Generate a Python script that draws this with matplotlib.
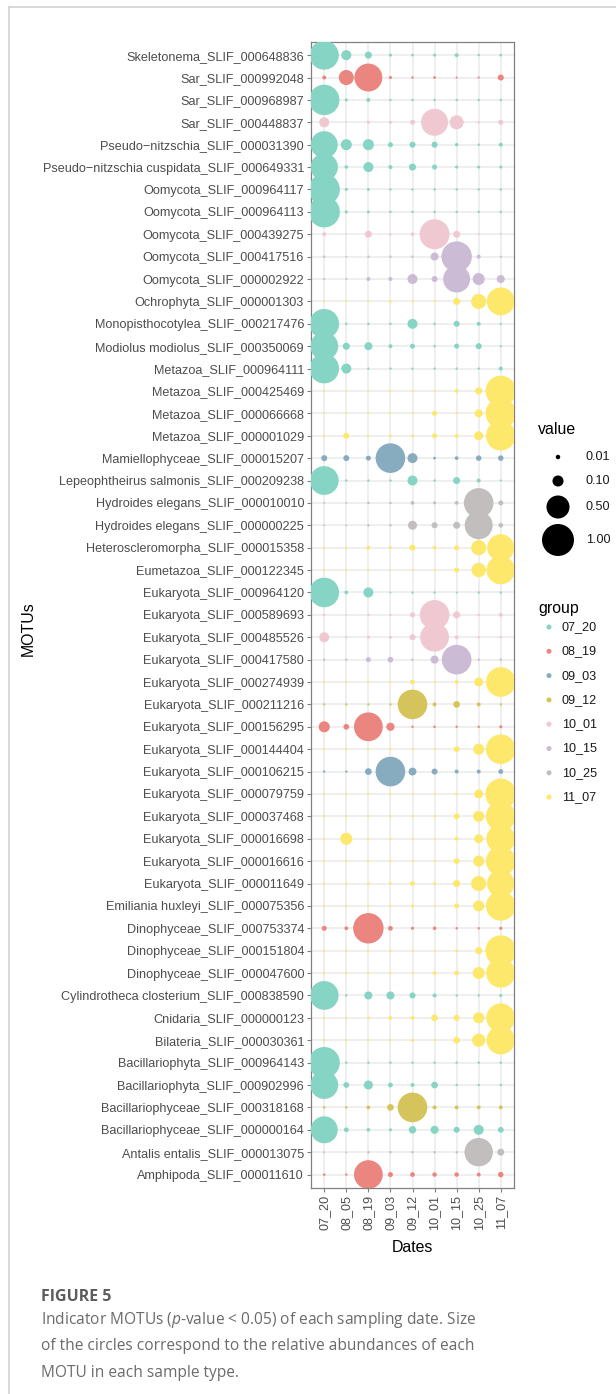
import matplotlib
matplotlib.use("Agg")
import matplotlib.pyplot as plt
import numpy as np
from matplotlib.lines import Line2D

# ---------------------------------------------------------------- data
dates = ["07_20", "08_05", "08_19", "09_03", "09_12", "10_01", "10_15", "10_25", "11_07"]

motus = [
    "Skeletonema_SLIF_000648836", "Sar_SLIF_000992048", "Sar_SLIF_000968987",
    "Sar_SLIF_000448837", "Pseudo\u2212nitzschia_SLIF_000031390",
    "Pseudo\u2212nitzschia cuspidata_SLIF_000649331", "Oomycota_SLIF_000964117",
    "Oomycota_SLIF_000964113", "Oomycota_SLIF_000439275", "Oomycota_SLIF_000417516",
    "Oomycota_SLIF_000002922", "Ochrophyta_SLIF_000001303",
    "Monopisthocotylea_SLIF_000217476", "Modiolus modiolus_SLIF_000350069",
    "Metazoa_SLIF_000964111", "Metazoa_SLIF_000425469", "Metazoa_SLIF_000066668",
    "Metazoa_SLIF_000001029", "Mamiellophyceae_SLIF_000015207",
    "Lepeophtheirus salmonis_SLIF_000209238", "Hydroides elegans_SLIF_000010010",
    "Hydroides elegans_SLIF_000000225", "Heteroscleromorpha_SLIF_000015358",
    "Eumetazoa_SLIF_000122345", "Eukaryota_SLIF_000964120", "Eukaryota_SLIF_000589693",
    "Eukaryota_SLIF_000485526", "Eukaryota_SLIF_000417580", "Eukaryota_SLIF_000274939",
    "Eukaryota_SLIF_000211216", "Eukaryota_SLIF_000156295", "Eukaryota_SLIF_000144404",
    "Eukaryota_SLIF_000106215", "Eukaryota_SLIF_000079759", "Eukaryota_SLIF_000037468",
    "Eukaryota_SLIF_000016698", "Eukaryota_SLIF_000016616", "Eukaryota_SLIF_000011649",
    "Emiliania huxleyi_SLIF_000075356", "Dinophyceae_SLIF_000753374",
    "Dinophyceae_SLIF_000151804", "Dinophyceae_SLIF_000047600",
    "Cylindrotheca closterium_SLIF_000838590", "Cnidaria_SLIF_000000123",
    "Bilateria_SLIF_000030361", "Bacillariophyta_SLIF_000964143",
    "Bacillariophyta_SLIF_000902996", "Bacillariophyceae_SLIF_000318168",
    "Bacillariophyceae_SLIF_000000164", "Antalis entalis_SLIF_000013075",
    "Amphipoda_SLIF_000011610",
]

groups = [
    "07_20", "08_19", "07_20", "10_01", "07_20", "07_20", "07_20", "07_20", "10_01",
    "10_15", "10_15", "11_07", "07_20", "07_20", "07_20", "11_07", "11_07", "11_07",
    "09_03", "07_20", "10_25", "10_25", "11_07", "11_07", "07_20", "10_01", "10_01",
    "10_15", "11_07", "09_12", "08_19", "11_07", "09_03", "11_07", "11_07", "11_07",
    "11_07", "11_07", "11_07", "08_19", "11_07", "11_07", "07_20", "11_07", "11_07",
    "07_20", "07_20", "09_12", "07_20", "10_25", "08_19",
]

# relative abundance of each MOTU on each sampling date
v_07_20 = [0.82, 0.007, 0.90, 0.08, 0.70, 0.72, 0.95, 0.95, 0.007, 0.001, 0.0005, 0.0005,
           0.85, 0.75, 0.85, 0.0005, 0.0002, 0.001, 0.023, 0.80, 0.0002, 0.0002, 0.001,
           0.001, 0.85, 0.001, 0.079, 0.001, 0.001, 0.001, 0.10, 0.001, 0.001, 0.001,
           0.001, 0.001, 0.001, 0.001, 0.001, 0.014, 0.001, 0.001, 0.80, 0.001, 0.001,
           0.95, 0.75, 0.0013, 0.70, 0.0002, 0.0013]
v_08_05 = [0.08, 0.20, 0.003, 0.0002, 0.10, 0.005, 0.003, 0.003, 0.0002, 0.0002, 0.0005,
           0.0005, 0.001, 0.034, 0.079, 0.0002, 0.0002, 0.023, 0.023, 0.001, 0.0002,
           0.0002, 0.001, 0.001, 0.006, 0.0002, 0.001, 0.001, 0.001, 0.001, 0.02, 0.001,
           0.001, 0.001, 0.001, 0.12, 0.001, 0.001, 0.001, 0.006, 0.001, 0.001, 0.001,
           0.001, 0.001, 0.001, 0.02, 0.001, 0.012, 0.0002, 0.001]
v_08_19 = [0.034, 0.75, 0.007, 0.003, 0.10, 0.079, 0.002, 0.002, 0.034, 0.001, 0.007,
           0.0005, 0.001, 0.047, 0.001, 0.0005, 0.0005, 0.001, 0.014, 0.001, 0.001, 0.001,
           0.007, 0.001, 0.079, 0.001, 0.003, 0.014, 0.001, 0.001, 0.80, 0.001, 0.03,
           0.001, 0.001, 0.001, 0.001, 0.002, 0.001, 0.90, 0.001, 0.001, 0.047, 0.002,
           0.001, 0.001, 0.062, 0.006, 0.005, 0.001, 0.80]
v_09_03 = [0.003, 0.003, 0.001, 0.003, 0.014, 0.007, 0.001, 0.001, 0.001, 0.001, 0.007,
           0.002, 0.001, 0.007, 0.001, 0.0005, 0.0005, 0.002, 0.85, 0.001, 0.001, 0.001,
           0.003, 0.0002, 0.0002, 0.001, 0.003, 0.02, 0.001, 0.001, 0.05, 0.001, 0.85,
           0.001, 0.001, 0.001, 0.001, 0.002, 0.001, 0.012, 0.001, 0.001, 0.047, 0.007,
           0.001, 0.001, 0.012, 0.03, 0.003, 0.001, 0.014]
v_09_12 = [0.002, 0.001, 0.001, 0.014, 0.023, 0.034, 0.001, 0.001, 0.006, 0.001, 0.079,
           0.001, 0.079, 0.014, 0.001, 0.0005, 0.0005, 0.002, 0.079, 0.079, 0.006, 0.062,
           0.023, 0.001, 0.001, 0.014, 0.023, 0.001, 0.012, 0.85, 0.001, 0.001, 0.045,
           0.001, 0.001, 0.001, 0.001, 0.012, 0.003, 0.003, 0.001, 0.001, 0.023, 0.007,
           0.003, 0.001, 0.007, 0.85, 0.04, 0.001, 0.012]
v_10_01 = [0.003, 0.002, 0.001, 0.70, 0.023, 0.014, 0.001, 0.001, 0.87, 0.047, 0.023,
           0.001, 0.001, 0.001, 0.001, 0.0005, 0.014, 0.014, 0.002, 0.001, 0.003, 0.023,
           0.006, 0.001, 0.001, 0.85, 0.80, 0.047, 0.001, 0.007, 0.0013, 0.001, 0.023,
           0.001, 0.001, 0.001, 0.001, 0.003, 0.001, 0.005, 0.001, 0.006, 0.007, 0.03,
           0.001, 0.001, 0.03, 0.007, 0.047, 0.001, 0.01]
v_10_15 = [0.007, 0.0005, 0.001, 0.17, 0.004, 0.003, 0.001, 0.001, 0.034, 0.90, 0.70,
           0.034, 0.023, 0.014, 0.001, 0.006, 0.001, 0.007, 0.006, 0.034, 0.006, 0.034,
           0.014, 0.014, 0.0002, 0.034, 0.006, 0.85, 0.007, 0.03, 0.001, 0.02, 0.007,
           0.002, 0.02, 0.007, 0.02, 0.034, 0.014, 0.001, 0.002, 0.012, 0.001, 0.023,
           0.03, 0.001, 0.001, 0.007, 0.023, 0.001, 0.01]
v_10_25 = [0.001, 0.0005, 0.001, 0.001, 0.001, 0.003, 0.001, 0.001, 0.0005, 0.007, 0.12,
           0.20, 0.007, 0.023, 0.001, 0.034, 0.047, 0.062, 0.018, 0.007, 0.85, 0.75,
           0.20, 0.18, 0.001, 0.001, 0.001, 0.001, 0.062, 0.007, 0.001, 0.10, 0.007,
           0.062, 0.10, 0.062, 0.10, 0.20, 0.10, 0.001, 0.034, 0.12, 0.001, 0.10,
           0.15, 0.001, 0.001, 0.007, 0.079, 0.78, 0.007]
v_11_07 = [0.002, 0.023, 0.001, 0.014, 0.007, 0.003, 0.001, 0.001, 0.0005, 0.0005, 0.047,
           0.75, 0.0005, 0.0005, 0.007, 0.90, 0.90, 0.85, 0.018, 0.0005, 0.014, 0.012,
           0.70, 0.78, 0.001, 0.007, 0.001, 0.001, 0.85, 0.001, 0.003, 0.85, 0.012,
           0.92, 0.85, 0.80, 0.85, 0.72, 0.85, 0.003, 0.92, 0.82, 0.003, 0.80,
           0.78, 0.001, 0.001, 0.007, 0.02, 0.034, 0.018]

group_levels = ["07_20", "08_19", "09_03", "09_12", "10_01", "10_15", "10_25", "11_07"]
group_colors = ["#86d4c4", "#ea857f", "#87acc0", "#d5c45b", "#f0c8d1", "#cbbbd4",
                "#c2bebe", "#fde86b"]
size_breaks = [0.01, 0.10, 0.50, 1.00]
size_labels = ["0.01", "0.10", "0.50", "1.00"]

# ---------------------------------------------------------------- helpers
W, H = 616, 1394
DPI = 100


def fx(x):
    return x / W


def fy(y):
    return 1 - y / H


def marker_area(v):
    """Area-proportional size scale: diameter grows with sqrt(value)."""
    d_px = 1.4 + 30.6 * np.sqrt(np.asarray(v, dtype=float))
    return (d_px * 72.0 / DPI) ** 2


plt.rcParams["font.family"] = ["Liberation Sans", "DejaVu Sans"]
plt.rcParams["mathtext.fontset"] = "custom"
plt.rcParams["mathtext.it"] = "Open Sans:italic"
plt.rcParams["mathtext.rm"] = "Open Sans"

fig = plt.figure(figsize=(W / DPI, H / DPI), dpi=DPI)
fig.patch.set_facecolor("white")

# ---------------------------------------------------------------- main panel
left, right, top, bottom = 311, 514, 41.7, 1188
ax = fig.add_axes([fx(left), fy(bottom), (right - left) / W, (bottom - top) / H])

color_of = dict(zip(group_levels, group_colors))
row_colors = [color_of[g] for g in groups]
rows = np.arange(len(motus))
columns = [v_07_20, v_08_05, v_08_19, v_09_03, v_09_12, v_10_01, v_10_15, v_10_25, v_11_07]

for j, vals in enumerate(columns):
    ax.scatter(np.full(len(motus), j), rows, s=marker_area(vals), c=row_colors,
               linewidths=0, zorder=3)

ax.set_xlim(-0.6, len(dates) - 0.4)
ax.set_ylim(len(motus) - 0.4, -0.6)
ax.set_xticks(range(len(dates)))
ax.set_xticklabels(dates, rotation=90, fontsize=9.1, color="#4d4d4d", va="top")
ax.set_yticks(rows)
ax.set_yticklabels(motus, fontsize=9.1, color="#4d4d4d")
ax.set_axisbelow(True)
ax.grid(True, color="#ebebeb", linewidth=1.1, zorder=0)
ax.tick_params(length=2.8, width=0.8, color="#7f7f7f", pad=2.2)
for sp in ax.spines.values():
    sp.set_color("#808080")
    sp.set_linewidth(0.9)

fig.text(fx(412), fy(1248), "Dates", fontsize=11.4, ha="center", va="center")
fig.text(fx(28), fy(629), "MOTUs", fontsize=11.4, rotation=90, ha="center", va="center")

# ---------------------------------------------------------------- legends
lg = fig.add_axes([0, 0, 1, 1], facecolor="none")
lg.set_xlim(0, W)
lg.set_ylim(H, 0)
lg.axis("off")

lg.text(538, 429, "value", fontsize=11.4, ha="left", va="center")
value_key_y = [457, 481, 507, 540]
lg.scatter(np.full(len(size_breaks), 558), value_key_y, s=marker_area(size_breaks),
           c="black", linewidths=0)
for y, lab in zip(value_key_y, size_labels):
    lg.text(586, y, lab, fontsize=9.1, ha="left", va="center", color="#1a1a1a")

lg.text(538, 609, "group", fontsize=11.4, ha="left", va="center")
group_key_y = [627 + 24.3 * i for i in range(len(group_levels))]
lg.scatter(np.full(len(group_levels), 549), group_key_y, s=marker_area(0.014),
           c=group_colors, linewidths=0)
for y, lab in zip(group_key_y, group_levels):
    lg.text(562, y, lab, fontsize=9.1, ha="left", va="center", color="#1a1a1a")

# ---------------------------------------------------------------- page frame + caption
frame_kw = dict(color="#d2d2d2", linewidth=1.2, transform=fig.transFigure)
fig.add_artist(Line2D([fx(9), 1], [fy(7), fy(7)], **frame_kw))
fig.add_artist(Line2D([fx(9), fx(9)], [fy(7), 0], **frame_kw))

fig.text(fx(41), fy(1297), "FIGURE 5", fontsize=11.5, fontweight="bold",
         family="Open Sans", color="#5c5c5c", ha="left", va="center")
caption = [
    r"Indicator MOTUs ($p$-value < 0.05) of each sampling date. Size",
    "of the circles correspond to the relative abundances of each",
    "MOTU in each sample type.",
]
for i, line in enumerate(caption):
    fig.text(fx(41), fy(1320 + 26.5 * i), line, fontsize=11.2, family="Open Sans",
             color="#6b6b6b", ha="left", va="center")

fig.savefig("out.png", dpi=DPI, facecolor="white")
